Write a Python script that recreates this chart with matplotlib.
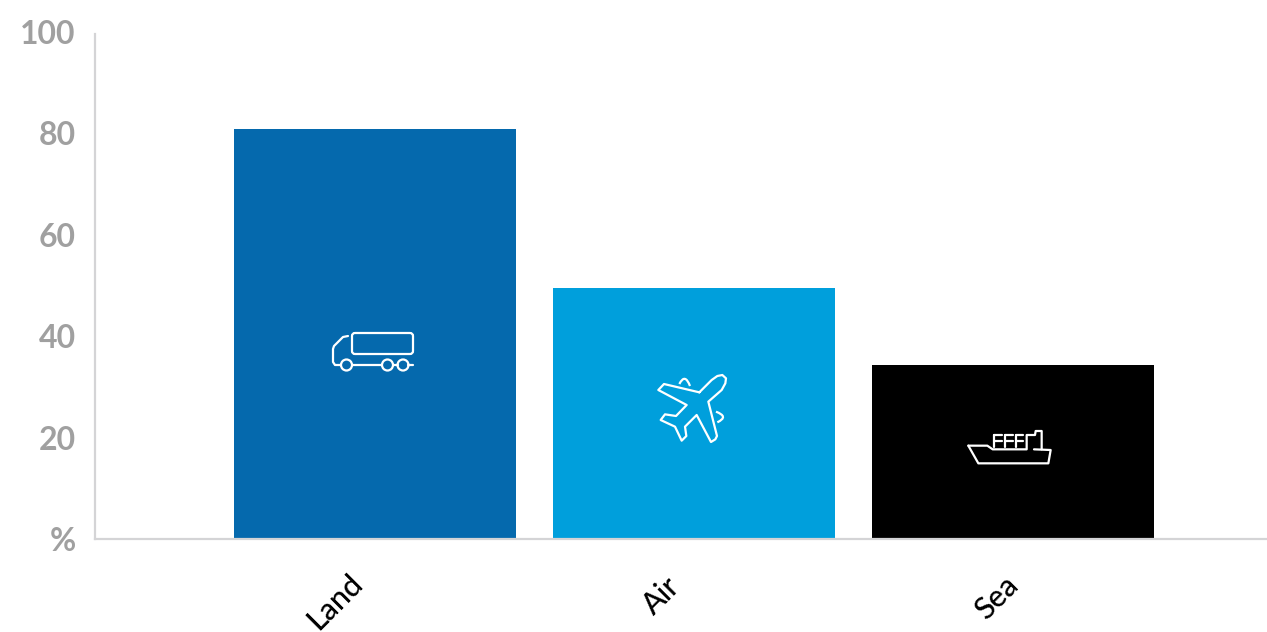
import matplotlib
matplotlib.use('Agg')
import matplotlib.pyplot as plt
from matplotlib.patches import Circle, PathPatch, FancyBboxPatch
from matplotlib.path import Path
from matplotlib.transforms import Affine2D, ScaledTranslation

plt.rcParams['font.family'] = ['Lato', 'DejaVu Sans']

categories = ['Land', 'Air', 'Sea']
values = [80.9, 49.5, 34.3]
colors = ['#0569ad', '#009fdc', '#000000']
y_ticks = [0, 20, 40, 60, 80, 100]
y_labels = ['%', '20', '40', '60', '80', '100']
# small nudges for the rotated labels, in pixels
label_shift = [-27, -29, -9]
label_drop = [18, 14, 15]

W, H = 1267, 632
fig = plt.figure(figsize=(W / 100, H / 100), dpi=100)
ax = fig.add_axes([95 / W, (H - 539) / H, (W - 95) / W, (539 - 32) / H])

ax.bar(range(3), values, width=0.884, color=colors, zorder=2)
ax.set_xlim(-0.878, 2.796)
ax.set_ylim(0, 100)

for s in ['top', 'right']:
    ax.spines[s].set_visible(False)
for s in ['left', 'bottom']:
    ax.spines[s].set_color('#d4d4d6')
    ax.spines[s].set_linewidth(1.6)
ax.spines['left'].set_bounds(0, 99.6)

ax.set_yticks(y_ticks)
ax.set_yticklabels(y_labels, fontsize=23, fontweight='bold', color='#a0a0a0')
ax.tick_params(axis='y', length=0, pad=14)
ax.set_xticks(range(3))
ax.set_xticklabels(categories, fontsize=22, fontweight='medium', color='black', rotation=45,
                   ha='right', rotation_mode='anchor')
ax.tick_params(axis='x', length=0, pad=34)
for lab, dx, dy in zip(ax.get_xticklabels(), label_shift, label_drop):
    lab.set_transform(lab.get_transform() + ScaledTranslation(dx / 100, dy / 100, fig.dpi_scale_trans))
    lab.set_clip_on(False)

# icons are drawn in screen pixels, y going down, same as the picture
px = Affine2D().scale(1, -1).translate(0, H)
ICON_LW = 1.6


def line(pts):
    codes = [Path.MOVETO] + [Path.LINETO] * (len(pts) - 1)
    ax.add_patch(PathPatch(Path(pts, codes), fc='none', ec='white', lw=ICON_LW,
                           transform=px, zorder=3, clip_on=False,
                           joinstyle='round', capstyle='round'))


def smooth(pts):
    codes = [Path.MOVETO] + [Path.CURVE3] * (len(pts) - 1)
    ax.add_patch(PathPatch(Path(pts, codes), fc='none', ec='white', lw=ICON_LW,
                           transform=px, zorder=3, clip_on=False))


# truck
ax.add_patch(FancyBboxPatch((355, 336), 55, 15, boxstyle='round,pad=3', fc='none',
                            ec='white', lw=ICON_LW, transform=px, zorder=3))
line([(348, 336), (343, 337), (334, 346), (333, 349), (333, 362), (335, 365), (341, 365)])
line([(352, 365), (382, 365)])
line([(393, 365), (398, 365)])
line([(408, 365), (413, 365)])
for cx in [346.5, 387.5, 403]:
    ax.add_patch(Circle((cx, 365), 5.5, fc='none', ec='white', lw=ICON_LW, transform=px, zorder=3))

# plane
ox, oy = 640, 360
plane = [(178, 97), (215, 60), (232, 48), (247, 45), (258, 55), (256, 70), (245, 90), (205, 125),
         (231, 228), (226, 238), (213, 246), (170, 165), (135, 200), (139, 228), (125, 242), (105, 200),
         (62, 180), (75, 163), (108, 168), (140, 135), (55, 90), (72, 72), (178, 97)]
line([(ox + a / 3, oy + b / 3) for a, b in plane])
smooth([(ox + a / 3, oy + b / 3) for a, b in [(118, 72), (135, 38), (150, 78)]])
smooth([(ox + a / 3, oy + b / 3) for a, b in [(228, 155), (268, 170), (232, 187)]])

# ship
ox, oy = 950, 415
ship = [(55, 92), (112, 92), (128, 103), (230, 103), (230, 60), (255, 60), (257, 48), (275, 48), (275, 103)]
hull = [(55, 92), (85, 145), (295, 145), (302, 105), (252, 103)]
line([(ox + a / 3, oy + b / 3) for a, b in ship])
line([(ox + a / 3, oy + b / 3) for a, b in hull])
for x0 in [132, 165, 197]:
    line([(ox + x0 / 3, oy + 60 / 3), (ox + (x0 + 23) / 3, oy + 60 / 3)])
    line([(ox + x0 / 3, oy + 78 / 3), (ox + (x0 + 23) / 3, oy + 78 / 3)])
    line([(ox + x0 / 3, oy + 60 / 3), (ox + x0 / 3, oy + 95 / 3)])

plt.savefig('out.png', dpi=100)
